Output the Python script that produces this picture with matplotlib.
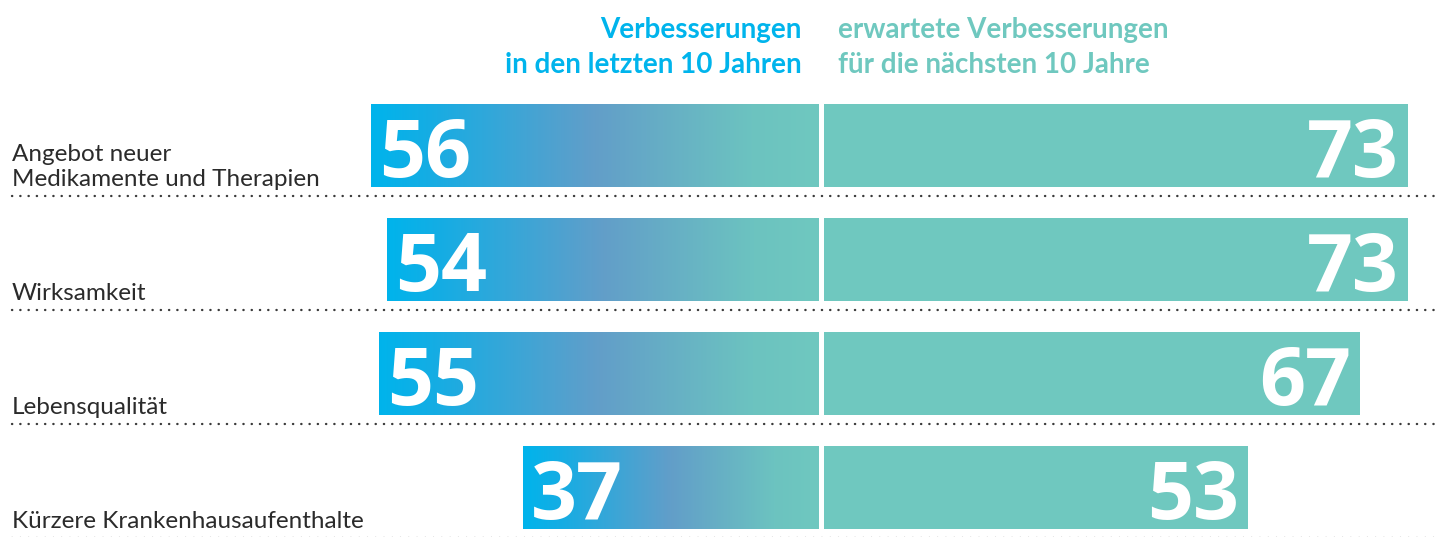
import numpy as np
import matplotlib
matplotlib.use("Agg")
import matplotlib.pyplot as plt
from matplotlib.colors import LinearSegmentedColormap

categories = ["Angebot neuer\nMedikamente und Therapien", "Wirksamkeit",
              "Lebensqualität", "Kürzere Krankenhausaufenthalte"]
past = [56, 54, 55, 37]
future = [73, 73, 67, 53]
head_left = "Verbesserungen\nin den letzten 10 Jahren"
head_right = "erwartete Verbesserungen\nfür die nächsten 10 Jahre"

blue = "#00b4ec"
teal = "#6fc8bf"
grad = LinearSegmentedColormap.from_list(
    "g", [(0, blue), (0.12, "#14ade4"), (0.5, "#629ec9"), (0.85, "#6cc3c0"), (1, teal)])

# layout in pixels, 8 px per percent point
W, H = 1442, 537
center = 819
gap = 5
scale = 8
row0, rowstep, barh = 145.5, 114, 83

fig = plt.figure(figsize=(W / 100, H / 100), dpi=100)
ax = fig.add_axes([0, 0, 1, 1])
ax.set_xlim(0, W)
ax.set_ylim(H, 0)
ax.axis("off")

for i, (cat, p, f) in enumerate(zip(categories, past, future)):
    yc = row0 + i * rowstep
    y0, y1 = yc - barh / 2, yc + barh / 2
    x0 = center - p * scale
    # gradient left bar
    g = np.linspace(0, 1, 256).reshape(1, -1)
    ax.imshow(g, cmap=grad, aspect="auto", extent=[x0, center, y1, y0],
              interpolation="bicubic", zorder=2)
    # right bar
    ax.barh(yc, f * scale, left=center + gap, height=barh, color=teal, zorder=2)
    ax.text(x0 + 8, y1 - 10, str(p), color="white", fontsize=58, fontweight="bold",
            family="Open Sans", ha="left", va="baseline", zorder=3)
    ax.text(center + gap + f * scale - 9, y1 - 10, str(f), color="white", fontsize=58,
            fontweight="bold", family="Open Sans", ha="right", va="baseline", zorder=3)
    ax.text(12, y1 - 1, cat, color="#2b2b2b", fontsize=17.5, family="Lato",
            ha="left", va="baseline", linespacing=1.25, zorder=3)
    ly = yc + 50
    ax.plot([12, 1436], [ly, ly], color="#3a3a3a", lw=1.7,
            dashes=(0.1, 3.4), dash_capstyle="round", zorder=1)

ax.set_xlim(0, W)
ax.set_ylim(H, 0)

ax.text(802, 73, head_left, color=blue, fontsize=20, fontweight="bold", family="Lato",
        ha="right", va="baseline", linespacing=1.43)
ax.text(838, 73, head_right, color=teal, fontsize=20, fontweight="bold", family="Lato",
        ha="left", va="baseline", linespacing=1.43)

fig.savefig("out.png", dpi=100)
